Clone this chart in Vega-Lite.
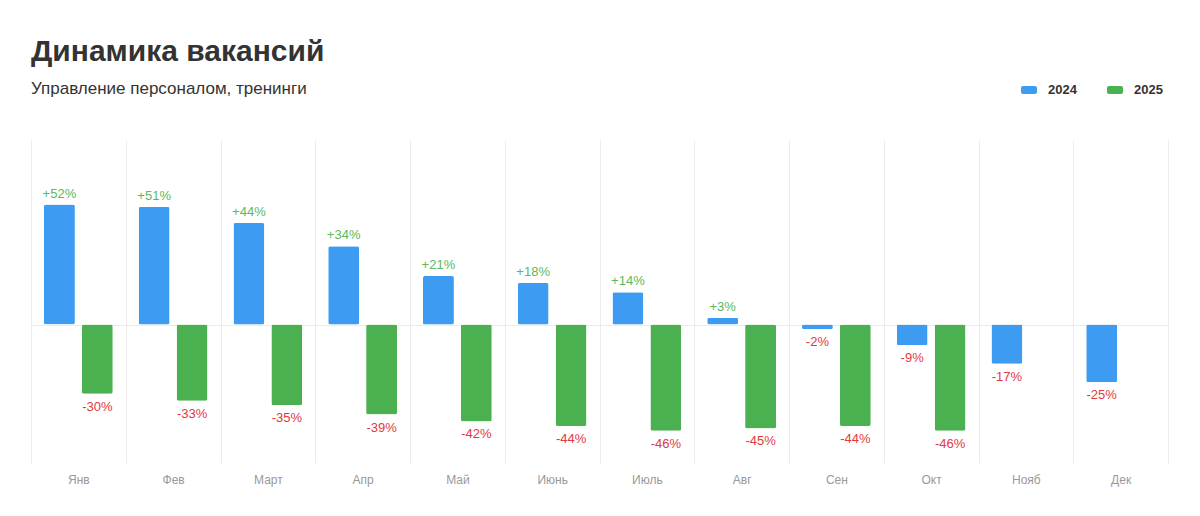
{
  "$schema": "https://vega.github.io/schema/vega-lite/v6.json",
  "autosize": {"type": "none"},
  "width": 1137,
  "height": 323,
  "padding": {"left": 31, "top": 140, "right": 32, "bottom": 53},
  "background": "white",
  "title": {
    "text": "Динамика вакансий",
    "subtitle": "Управление персоналом, тренинги",
    "anchor": "start",
    "frame": "group",
    "offset": -15,
    "font": "Liberation Sans",
    "fontSize": 30,
    "fontWeight": "bold",
    "color": "#333333",
    "subtitleFont": "Liberation Sans",
    "subtitleFontSize": 17,
    "subtitleColor": "#333333",
    "subtitlePadding": 14
  },
  "config": {
    "view": {"stroke": null},
    "font": "Liberation Sans"
  },
  "data": {
    "values": [
      {"month": "Янв", "year": "2024", "value": 52},
      {"month": "Фев", "year": "2024", "value": 51},
      {"month": "Март", "year": "2024", "value": 44},
      {"month": "Апр", "year": "2024", "value": 34},
      {"month": "Май", "year": "2024", "value": 21},
      {"month": "Июнь", "year": "2024", "value": 18},
      {"month": "Июль", "year": "2024", "value": 14},
      {"month": "Авг", "year": "2024", "value": 3},
      {"month": "Сен", "year": "2024", "value": -2},
      {"month": "Окт", "year": "2024", "value": -9},
      {"month": "Нояб", "year": "2024", "value": -17},
      {"month": "Дек", "year": "2024", "value": -25},
      {"month": "Янв", "year": "2025", "value": -30},
      {"month": "Фев", "year": "2025", "value": -33},
      {"month": "Март", "year": "2025", "value": -35},
      {"month": "Апр", "year": "2025", "value": -39},
      {"month": "Май", "year": "2025", "value": -42},
      {"month": "Июнь", "year": "2025", "value": -44},
      {"month": "Июль", "year": "2025", "value": -46},
      {"month": "Авг", "year": "2025", "value": -45},
      {"month": "Сен", "year": "2025", "value": -44},
      {"month": "Окт", "year": "2025", "value": -46}
    ]
  },
  "transform": [
    {"calculate": "(datum.value > 0 ? '+' : '') + datum.value + '%'", "as": "label"}
  ],
  "encoding": {
    "x": {
      "field": "month",
      "type": "nominal",
      "sort": ["Янв", "Фев", "Март", "Апр", "Май", "Июнь", "Июль", "Авг", "Сен", "Окт", "Нояб", "Дек"],
      "scale": {"paddingInner": 0, "paddingOuter": 0},
      "axis": {
        "title": null,
        "grid": true,
        "tickBand": "extent",
        "gridColor": "#ececec",
        "domain": false,
        "ticks": false,
        "labelAngle": 0,
        "labelColor": "#999999",
        "labelFontSize": 12,
        "labelPadding": 11
      }
    },
    "xOffset": {
      "field": "year",
      "type": "nominal",
      "scale": {"paddingInner": 0.184, "paddingOuter": 0.342}
    },
    "y": {
      "field": "value",
      "type": "quantitative",
      "scale": {"domain": [-60, 80], "nice": false},
      "axis": {
        "title": null,
        "values": [0],
        "grid": true,
        "gridColor": "#ececec",
        "labels": false,
        "ticks": false,
        "domain": false
      }
    }
  },
  "layer": [
    {
      "mark": {"type": "bar", "cornerRadius": 2},
      "encoding": {
        "color": {
          "field": "year",
          "type": "nominal",
          "scale": {"domain": ["2024", "2025"], "range": ["#3d9cf1", "#4bb04f"]},
          "legend": {
            "title": null,
            "orient": "none",
            "direction": "horizontal",
            "legendX": 990,
            "legendY": -58,
            "padding": 0,
            "symbolType": "M-0.75,-0.5H0.75A0.25,0.25 0 0 1 1,-0.25V0.25A0.25,0.25 0 0 1 0.75,0.5H-0.75A0.25,0.25 0 0 1 -1,0.25V-0.25A0.25,0.25 0 0 1 -0.75,-0.5Z",
            "symbolSize": 256,
            "symbolStrokeWidth": 0,
            "labelFontSize": 13,
            "labelFontWeight": "bold",
            "labelColor": "#333333",
            "labelOffset": 11,
            "columnPadding": 30
          }
        }
      }
    },
    {
      "transform": [{"filter": "datum.value > 0"}],
      "mark": {"type": "text", "baseline": "alphabetic", "dy": -7, "fontSize": 13, "color": "#5cb85c"},
      "encoding": {"text": {"field": "label"}}
    },
    {
      "transform": [{"filter": "datum.value < 0"}],
      "mark": {"type": "text", "baseline": "top", "dy": 7, "fontSize": 13, "color": "#e0393e"},
      "encoding": {"text": {"field": "label"}}
    }
  ]
}
